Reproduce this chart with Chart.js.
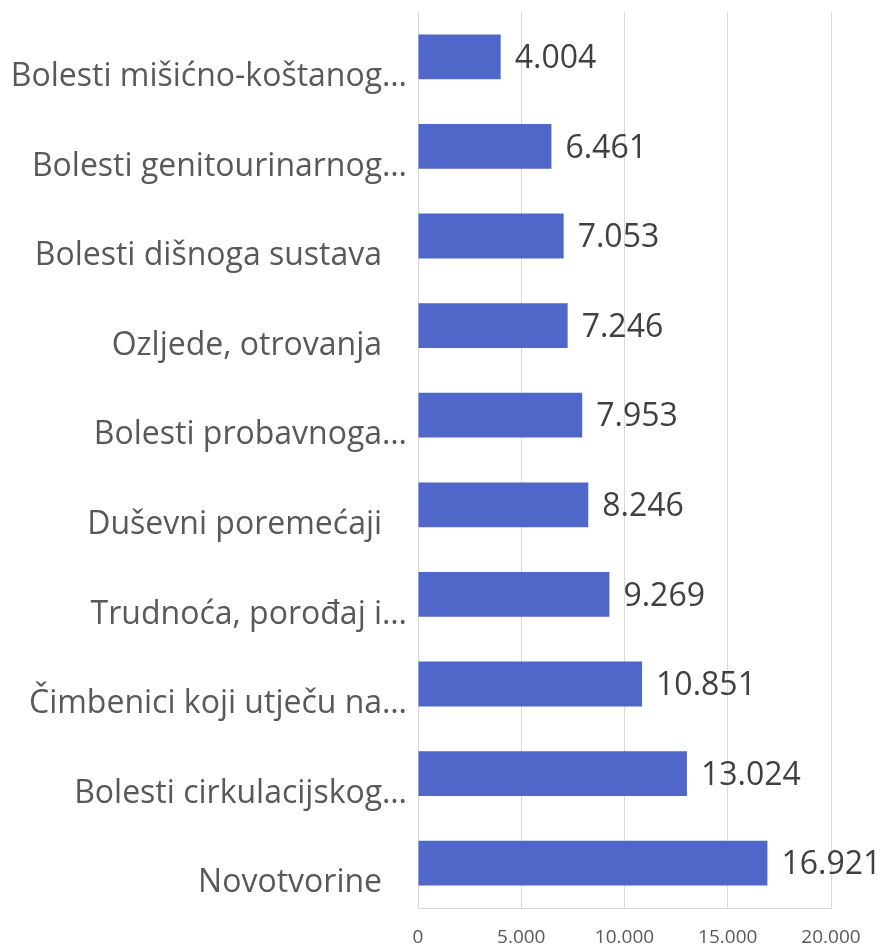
<!DOCTYPE html>
<html>
<head>
<meta charset="utf-8">
<script src="https://cdn.jsdelivr.net/npm/chart.js@4/dist/chart.umd.min.js"></script>
<style>
  body { margin: 0; background: #fff; }
</style>
</head>
<body>
<canvas id="myChart" width="882" height="946"></canvas>
<script>
// Categories (top to bottom) and values
let labelsBolesti = [
	"Bolesti mišićno-koštanog…",
	"Bolesti genitourinarnog…",
	"Bolesti dišnoga sustava   ",
	"Ozljede, otrovanja   ",
	"Bolesti probavnoga…",
	"Duševni poremećaji   ",
	"Trudnoća, porođaj i…",
	"Čimbenici koji utječu na…",
	"Bolesti cirkulacijskog…",
	"Novotvorine   "
];
let dataBolesti = [4004, 6461, 7053, 7246, 7953, 8246, 9269, 10851, 13024, 16921];
let tickValues = [0, 5000, 10000, 15000, 20000];

// Format numbers with dot as thousands separator
function formatNum(n) {
	return n.toString().replace(/\B(?=(\d{3})+(?!\d))/g, ".");
}

// Draws the value at the end of each bar
const valueLabels = {
	id: 'valueLabels',
	afterDatasetsDraw(chart) {
		const ctx = chart.ctx;
		const meta = chart.getDatasetMeta(0);
		ctx.save();
		ctx.font = '32px "Open Sans"';
		ctx.fillStyle = '#404040';
		ctx.textBaseline = 'middle';
		ctx.textAlign = 'left';
		meta.data.forEach((bar, i) => {
			ctx.fillText(formatNum(dataBolesti[i]), bar.x + 14, bar.y + 2);
		});
		ctx.restore();
	}
};

const config = {
	type: 'bar',
	data: {
		labels: labelsBolesti,
		datasets: [{
			data: dataBolesti,
			backgroundColor: '#4E67C8',
			categoryPercentage: 1,
			barPercentage: 0.5
		}]
	},
	options: {
		indexAxis: 'y',
		responsive: false,
		animation: false,
		layout: { padding: { top: 12, right: 51, left: 0, bottom: 0 } },
		plugins: {
			legend: { display: false },
			tooltip: { enabled: false }
		},
		scales: {
			x: {
				min: 0,
				max: 20000,
				afterBuildTicks: (scale) => { scale.ticks = tickValues.map(v => ({ value: v })); },
				afterFit: (scale) => { scale.height = 38; scale.paddingLeft = 0; scale.paddingRight = 0; },
				grid: { color: '#D9D9D9', drawTicks: false },
				border: { color: '#D9D9D9' },
				ticks: {
					padding: 18,
					maxRotation: 0,
					color: '#595959',
					font: { family: '"Open Sans"', size: 19 },
					callback: (v) => formatNum(v)
				}
			},
			y: {
				afterFit: (scale) => { scale.width = 418; scale.paddingTop = 0; scale.paddingBottom = 0; },
				grid: { display: false, drawTicks: false },
				border: { display: false },
				ticks: {
					padding: 11,
					labelOffset: 20,
					color: '#595959',
					font: { family: '"Open Sans"', size: 32 },
					autoSkip: false
				}
			}
		}
	},
	plugins: [valueLabels]
};

new Chart(document.getElementById('myChart'), config);
</script>
</body>
</html>
